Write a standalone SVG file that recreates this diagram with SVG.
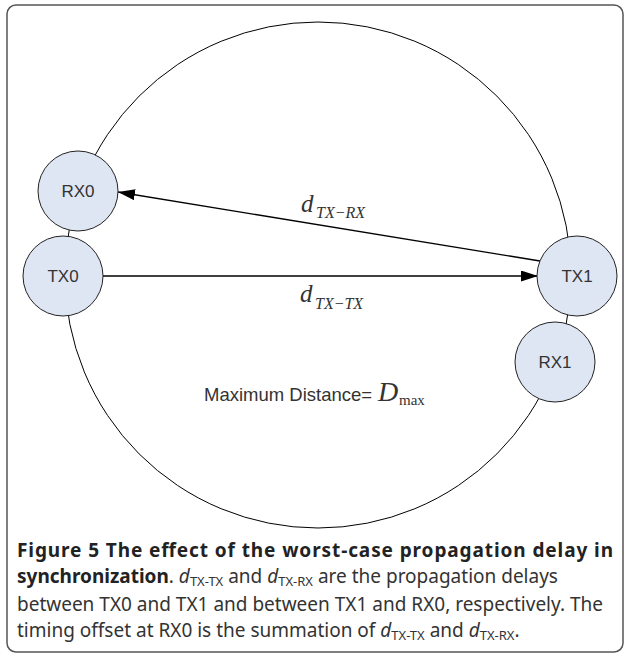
<svg xmlns="http://www.w3.org/2000/svg" width="625" height="657" viewBox="0 0 625 657">
<defs>
<style>
.node{fill:#dfe6f3;stroke:#222;stroke-width:1}
.nl{font-family:"Liberation Sans",Arial,sans-serif;font-size:17px;fill:#333;text-anchor:middle}
.conn{stroke:#000;stroke-width:1.3;fill:none}
.math{font-family:"Liberation Serif","Times New Roman",serif;font-style:italic;fill:#333}
.cap{font-family:"Noto Sans","Open Sans",sans-serif;font-size:19px;fill:#333}
.capb{font-weight:bold;fill:#222}
</style>
<marker id="ah" viewBox="0 0 17 11" refX="17" refY="5.5" markerWidth="17" markerHeight="11" markerUnits="userSpaceOnUse" orient="auto">
<path d="M0,0 L17,5.5 L0,11 Z" fill="#000"/>
</marker>
</defs>
<rect x="7" y="5" width="616" height="647" rx="9" fill="#fff" stroke="#555" stroke-width="1.5"/>
<circle cx="318" cy="275" r="253" fill="none" stroke="#000" stroke-width="1"/>
<g id="connectors">
<line class="conn" x1="103" y1="276" x2="538" y2="276" marker-end="url(#ah)"/>
<line class="conn" x1="540" y1="261" x2="118" y2="192" marker-end="url(#ah)"/>
</g>
<g id="RX0"><ellipse class="node" cx="78" cy="191" rx="40" ry="40"/><text class="nl" x="78" y="197">RX0</text></g>
<g id="TX0"><ellipse class="node" cx="63" cy="276" rx="40" ry="40"/><text class="nl" x="63" y="282">TX0</text></g>
<g id="TX1"><ellipse class="node" cx="577" cy="276" rx="40" ry="40"/><text class="nl" x="577" y="282">TX1</text></g>
<g id="RX1"><ellipse class="node" cx="555" cy="362" rx="40" ry="40"/><text class="nl" x="555" y="368">RX1</text></g>
<g id="labels">
<text class="math" x="301" y="212" font-size="25">d</text>
<text class="math" x="316" y="218" font-size="16">TX−RX</text>
<text class="math" x="300" y="302" font-size="25">d</text>
<text class="math" x="315" y="309" font-size="16">TX−TX</text>
<text x="204" y="401" font-family="Liberation Sans,Arial,sans-serif" font-size="18.5" fill="#333">Maximum Distance=</text>
<text class="math" x="378" y="401" font-size="28">D</text>
<text x="399" y="405" font-family="Liberation Serif,Times New Roman,serif" font-size="15" fill="#333">max</text>
</g>
<g id="caption">
<text class="cap capb" x="17" y="557" textLength="596" lengthAdjust="spacing">Figure 5 The effect of the worst-case propagation delay in</text>
<text class="cap" x="17" y="583"><tspan class="capb">synchronization</tspan>. <tspan font-style="italic">d</tspan><tspan font-size="13" dy="3">TX-TX</tspan><tspan dy="-3"> and </tspan><tspan font-style="italic">d</tspan><tspan font-size="13" dy="3">TX-RX</tspan><tspan dy="-3"> are the propagation delays</tspan></text>
<text class="cap" x="17" y="611" textLength="586" lengthAdjust="spacing">between TX0 and TX1 and between TX1 and RX0, respectively. The</text>
<text class="cap" x="17" y="637">timing offset at RX0 is the summation of <tspan font-style="italic">d</tspan><tspan font-size="13" dy="3">TX-TX</tspan><tspan dy="-3"> and </tspan><tspan font-style="italic">d</tspan><tspan font-size="13" dy="3">TX-RX</tspan><tspan dy="-3">.</tspan></text>
</g>
</svg>
